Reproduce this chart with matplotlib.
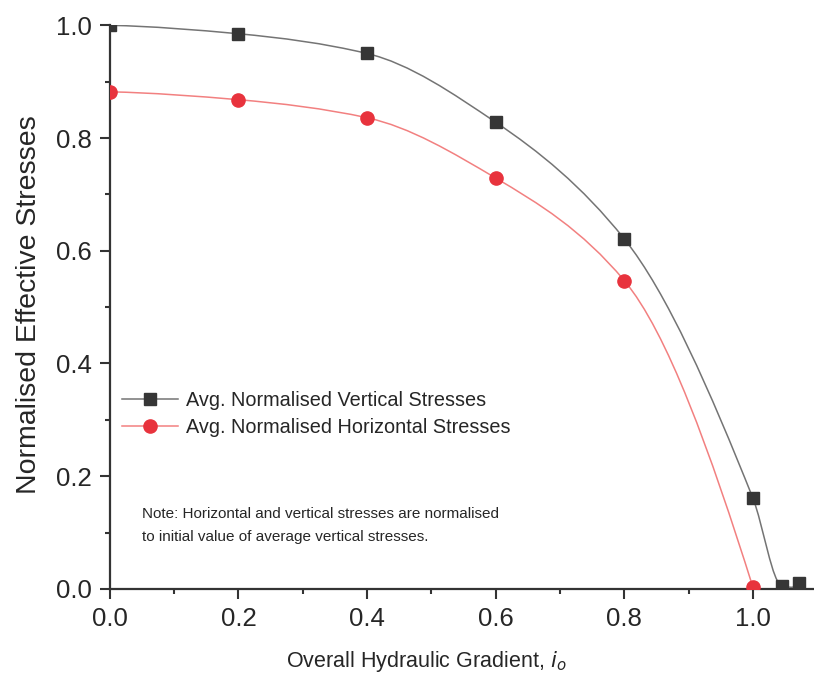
import numpy as np
import matplotlib
matplotlib.use("Agg")
import matplotlib.pyplot as plt
from matplotlib.path import Path
from matplotlib.patches import PathPatch
from matplotlib.lines import Line2D
from matplotlib.ticker import MultipleLocator

plt.rcParams['font.family'] = ['Liberation Sans', 'DejaVu Sans']

# values
gradient_v = [0.0, 0.2, 0.4, 0.6, 0.8, 1.0, 1.046, 1.071]
stress_v = [1.0, 0.985, 0.950, 0.828, 0.621, 0.161, 0.005, 0.010]
gradient_h = [0.0, 0.2, 0.4, 0.6, 0.8, 1.0]
stress_h = [0.882, 0.868, 0.836, 0.729, 0.547, 0.003]

label_v = "Avg. Normalised Vertical Stresses"
label_h = "Avg. Normalised Horizontal Stresses"
note_1 = "Note: Horizontal and vertical stresses are normalised"
note_2 = "to initial value of average vertical stresses."

TXT = '#262626'


def pchipSlopes(x, y):
    x = np.asarray(x, float)
    y = np.asarray(y, float)
    h = np.diff(x)
    d = np.diff(y) / h
    m = np.zeros_like(y)
    for k in range(1, len(x) - 1):
        if d[k - 1] * d[k] <= 0:
            m[k] = 0.0
        else:
            w1 = 2 * h[k] + h[k - 1]
            w2 = h[k] + 2 * h[k - 1]
            m[k] = (w1 + w2) / (w1 / d[k - 1] + w2 / d[k])
    m[0] = ((2 * h[0] + h[1]) * d[0] - h[0] * d[1]) / (h[0] + h[1])
    if m[0] * d[0] <= 0:
        m[0] = 0.0
    m[-1] = ((2 * h[-1] + h[-2]) * d[-1] - h[-1] * d[-2]) / (h[-1] + h[-2])
    if m[-1] * d[-1] <= 0:
        m[-1] = 0.0
    return m


def smoothPath(x, y):
    # cubic bezier segments through the points (like Origin's spline connect)
    m = pchipSlopes(x, y)
    verts = [(x[0], y[0])]
    codes = [Path.MOVETO]
    for k in range(len(x) - 1):
        h = x[k + 1] - x[k]
        verts += [(x[k] + h / 3, y[k] + m[k] * h / 3),
                  (x[k + 1] - h / 3, y[k + 1] - m[k + 1] * h / 3),
                  (x[k + 1], y[k + 1])]
        codes += [Path.CURVE4] * 3
    return Path(verts, codes)


fig = plt.figure(figsize=(8.14, 6.84), dpi=100)
ax = fig.add_axes([0.135, 0.139, 0.865, 0.824])

ax.add_patch(PathPatch(smoothPath(gradient_v, stress_v), fill=False,
                       edgecolor='#747474', lw=1.1, transform=ax.transData))
ax.add_patch(PathPatch(smoothPath(gradient_h, stress_h), fill=False,
                       edgecolor='#f28080', lw=1.1, transform=ax.transData))
ax.plot(gradient_v, stress_v, 's', color='#363636', ms=8, zorder=3)
ax.plot(gradient_h, stress_h, 'o', color='#e8333d', ms=9.5, zorder=3)

ax.set_xlim(0, 1.095)
ax.set_ylim(0, 1.0)
ax.set_xticks([0.0, 0.2, 0.4, 0.6, 0.8, 1.0])
ax.set_xticklabels(['0.0', '0.2', '0.4', '0.6', '0.8', '1.0'])
ax.xaxis.set_minor_locator(MultipleLocator(0.1))
ax.yaxis.set_major_locator(MultipleLocator(0.2))
ax.yaxis.set_minor_locator(MultipleLocator(0.1))

for s in ['top', 'right']:
    ax.spines[s].set_visible(False)
for s in ['left', 'bottom']:
    ax.spines[s].set_linewidth(1.6)
    ax.spines[s].set_color('#333333')
ax.tick_params(which='major', direction='out', length=7, width=1.5, pad=6,
               colors='#333333', labelsize=18.5, labelcolor=TXT)
ax.tick_params(which='minor', direction='out', length=3.8, width=1.5,
               colors='#333333')

ax.set_xlabel("Overall Hydraulic Gradient, $\\mathit{i}_{\\mathit{o}}$",
              fontsize=15.5, color=TXT, va='top')
ax.xaxis.set_label_coords(0.45, -0.106)
ax.set_ylabel("Normalised Effective Stresses", fontsize=20.5, color=TXT)
ax.yaxis.set_label_coords(-0.097, 0.505)

handles = [Line2D([], [], color='#747474', lw=1.1, marker='s', ms=8,
                  markerfacecolor='#363636', markeredgecolor='#363636'),
           Line2D([], [], color='#f28080', lw=1.1, marker='o', ms=9.5,
                  markerfacecolor='#e8333d', markeredgecolor='#e8333d')]
leg = ax.legend(handles, [label_v, label_h], loc='upper left',
                bbox_to_anchor=(0.006, 0.366), frameon=False, fontsize=14.3,
                handlelength=2.84, handletextpad=0.36, labelspacing=0.4,
                borderaxespad=0.0)
for t in leg.get_texts():
    t.set_color(TXT)

ax.text(0.045, 0.126, note_1, transform=ax.transAxes, fontsize=11,
        color=TXT, va='baseline', ha='left')
ax.text(0.045, 0.085, note_2, transform=ax.transAxes, fontsize=11,
        color=TXT, va='baseline', ha='left')

fig.savefig("out.png", dpi=100)
